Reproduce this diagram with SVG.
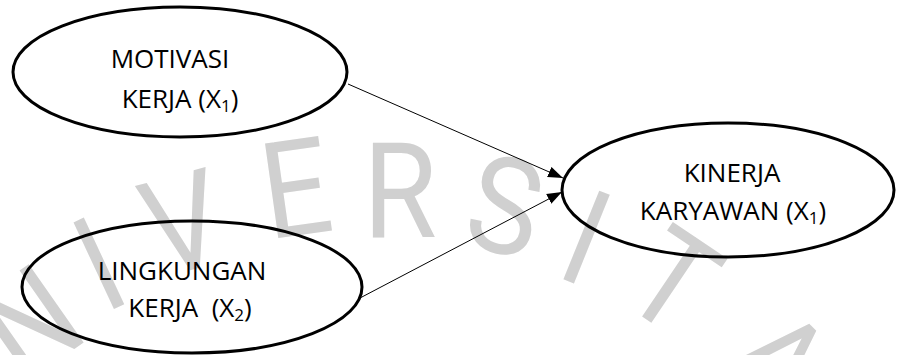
<svg xmlns="http://www.w3.org/2000/svg" width="897" height="355" viewBox="0 0 897 355">
<style>
.wm{font-family:Roboto,"Liberation Sans",sans-serif;font-weight:400;font-size:120px;fill:#d0d0d0;text-anchor:middle}
.node ellipse{fill:none;stroke:#000;stroke-width:3}
.lbl{font-family:"Open Sans","Liberation Sans",sans-serif;font-size:26px;fill:#000;text-anchor:middle;white-space:pre}
.sub{font-size:17px}
.conn line{stroke:#000;stroke-width:1}
</style>
<defs>
<marker id="arr" markerUnits="userSpaceOnUse" markerWidth="16" markerHeight="12" refX="15" refY="5.5" orient="auto" viewBox="0 0 16 11">
<path d="M0,0 L15,5.5 L0,11 Z" fill="#000"/>
</marker>
</defs>
<rect width="897" height="355" fill="#fff"/>
<g id="watermark">
<text class="wm" transform="translate(35,330) rotate(-35) scale(1,1.12)" y="34">N</text>
<text class="wm" transform="translate(103,272) rotate(-25) scale(1,1.12)" y="34">I</text>
<text class="wm" transform="translate(185,232) rotate(-15) scale(1,1.12)" y="34">V</text>
<text class="wm" transform="translate(297,197) rotate(-8) scale(1,1.12)" y="34">E</text>
<text class="wm" transform="translate(400,200) rotate(0) scale(1,1.12)" y="34">R</text>
<text class="wm" transform="translate(503,215) rotate(12) scale(1,1.12)" y="34">S</text>
<text class="wm" transform="translate(583,246) rotate(22) scale(1,1.12)" y="34">I</text>
<text class="wm" transform="translate(668,288) rotate(34) scale(1,1.12)" y="34">T</text>
<text class="wm" transform="translate(772,368) rotate(45) scale(1,1.12)" y="34">A</text>
</g>
<g id="connectors" class="conn">
<line x1="348" y1="84" x2="563" y2="178" marker-end="url(#arr)"/>
<line x1="360" y1="298" x2="562" y2="192" marker-end="url(#arr)"/>
</g>
<g id="motivasi" class="node">
<ellipse cx="180" cy="72" rx="167" ry="65"/>
<text class="lbl" x="170" y="68">MOTIVASI</text>
<text class="lbl" x="180" y="108">KERJA (X<tspan class="sub" dy="4">1</tspan><tspan dy="-4">)</tspan></text>
</g>
<g id="lingkungan" class="node">
<ellipse cx="192" cy="287" rx="170" ry="66"/>
<text class="lbl" x="182" y="280">LINGKUNGAN</text>
<text class="lbl" x="190" y="317">KERJA  (X<tspan class="sub" dy="4">2</tspan><tspan dy="-4">)</tspan></text>
</g>
<g id="kinerja" class="node">
<ellipse cx="728" cy="190" rx="166" ry="67"/>
<text class="lbl" x="732" y="182">KINERJA</text>
<text class="lbl" x="733" y="220">KARYAWAN (X<tspan class="sub" dy="4">1</tspan><tspan dy="-4">)</tspan></text>
</g>
</svg>
